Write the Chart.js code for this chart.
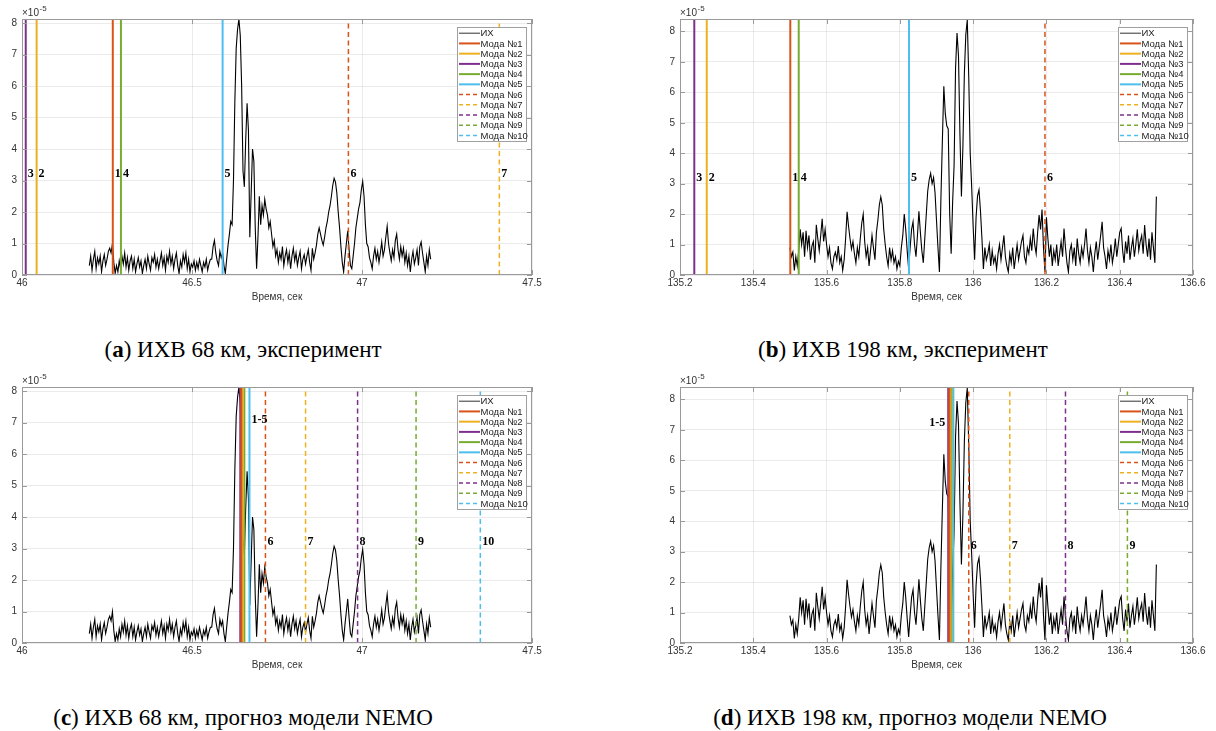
<!DOCTYPE html>
<html lang="ru">
<head>
<meta charset="utf-8">
<script src="https://cdn.jsdelivr.net/npm/chart.js@4.4.1/dist/chart.umd.min.js"></script>
<style>
  html, body { margin: 0; padding: 0; background: #fff; }
  body { width: 1216px; height: 731px; position: relative; overflow: hidden; }
  canvas { position: absolute; }
  .caption {
    position: absolute;
    font-family: "Liberation Serif", "DejaVu Serif", serif;
    font-size: 23px;
    line-height: 26px;
    color: #000;
    white-space: nowrap;
    transform: translateX(-50%);
  }
</style>
</head>
<body>
<canvas id="panelA" style="left:0;top:0" width="560" height="310"></canvas>
<canvas id="panelB" style="left:600px;top:0" width="616" height="310"></canvas>
<canvas id="panelC" style="left:0;top:368px" width="560" height="310"></canvas>
<canvas id="panelD" style="left:600px;top:368px" width="616" height="310"></canvas>

<div class="caption" style="left:243px;top:337px">(<b>a</b>) ИХВ 68 км, эксперимент</div>
<div class="caption" style="left:903px;top:337px">(<b>b</b>) ИХВ 198 км, эксперимент</div>
<div class="caption" style="left:243px;top:705px">(<b>c</b>) ИХВ 68 км, прогноз модели NEMO</div>
<div class="caption" style="left:910px;top:705px">(<b>d</b>) ИХВ 198 км, прогноз модели NEMO</div>

<script>
// Impulse response, 68 km (units of 1e-5), sampled every 4 ms from 46.198 s
const ir68Start = 46.198;
const ir68Step = 0.004;
const ir68 = [
  0.3, 0.6, 0.15, 0.5, 0.75, 0.2, 0.55, 0.35, 0.6, 0.1,
  0.45, 0.65, 0.3, 0.5, 0.75, 0.85, 0.7, 1.0, 0.4, 0.05,
  0.3, 0.1, 0.45, 0.2, 0.6, 0.35, 0.7, 0.25, 0.55, 0.15,
  0.45, 0.6, 0.2, 0.5, 0.1, 0.35, 0.55, 0.25, 0.45, 0.05,
  0.3, 0.5, 0.2, 0.6, 0.35, 0.15, 0.55, 0.4, 0.65, 0.25,
  0.5, 0.2, 0.45, 0.7, 0.3, 0.55, 0.15, 0.6, 0.4, 0.75,
  0.35, 0.6, 0.2, 0.5, 0.7, 0.3, 0.05, 0.45, 0.25, 0.65,
  0.4, 0.7, 0.2, 0.5, 0.1, 0.35, 0.25, 0.45, 0.15, 0.4,
  0.2, 0.5, 0.3, 0.1, 0.4, 0.25, 0.5, 0.15, 0.35, 0.5,
  0.5, 0.9, 1.1, 0.7, 0.45, 0.3, 0.75, 0.55, 0.7, 0.3,
  0.05, 0.5, 0.95, 1.3, 1.7, 1.6, 3.0, 5.5, 7.2, 7.8,
  8.13, 7.6, 6.0, 3.3, 2.8, 4.3, 5.45, 4.6, 1.2, 2.6,
  4.0, 3.6, 1.5, 0.2, 1.2, 2.5, 1.6, 2.2, 1.9, 2.4,
  2.1, 1.9, 1.5, 1.7, 1.3, 0.9, 1.1, 0.6, 0.8, 0.4,
  0.7, 0.5, 0.9, 0.3, 0.6, 0.8, 0.4, 0.7, 0.2, 0.6,
  0.85, 0.45, 0.7, 0.3, 0.55, 0.75, 0.2, 0.5, 0.65, 0.35,
  0.6, 0.8, 0.4, 0.15, 0.85, 0.5, 0.7, 0.95, 1.3, 1.5,
  1.3, 1.1, 0.95, 1.2, 1.5, 1.7, 2.0, 2.2, 2.5, 2.85,
  3.07, 2.95, 2.6, 2.0, 1.5, 0.9, 0.4, 0.1, 0.6, 1.0,
  1.4, 0.8, 0.3, 0.2, 0.6, 1.0, 1.5, 1.8, 2.1, 2.3,
  2.7, 2.97, 2.5, 1.6, 1.0, 0.9, 0.55, 0.4, 0.2, 0.6,
  0.85, 0.5, 0.75, 0.4, 0.7, 1.05, 0.6, 0.8, 1.2, 1.55,
  1.0, 0.7, 0.45, 0.8, 0.55, 1.1, 1.3, 0.8, 0.5, 0.9,
  0.6, 0.85, 0.4, 0.7, 0.3, 0.6, 0.1, 0.5, 0.75, 0.35,
  0.55, 0.8, 0.3, 0.9, 1.05, 0.7, 0.4, 0.1, 0.6, 0.3,
  0.8, 0.5
];

// Impulse response, 198 km (units of 1e-5), sampled every 4 ms from 135.5 s
const ir198Start = 135.5;
const ir198Step = 0.004;
const ir198 = [
  0.9, 0.6, 0.75, 0.15, 0.6, 0.3, 0.8, 1.5, 1.0, 1.4,
  0.6, 1.45, 0.9, 1.3, 0.5, 0.95, 1.1, 0.4, 1.65, 1.2,
  0.8, 1.3, 1.85, 1.1, 1.5, 1.0, 0.6, 0.9, 0.4, 0.2,
  0.6, 0.75, 0.5, 0.95, 0.4, 0.6, 0.15, 0.5, 1.2, 2.08,
  1.6, 1.2, 0.85, 1.1, 0.7, 0.4, 0.9, 0.6, 1.2, 1.7,
  2.0, 1.1, 0.6, 0.9, 0.3, 0.8, 1.3, 0.9, 0.5, 1.4,
  1.8, 2.3, 2.57, 2.3, 1.5, 1.0, 0.6, 0.3, 0.9, 0.5,
  0.8, 0.4, 0.6, 0.2, 0.45, 0.3, 0.9, 1.3, 2.0, 1.5,
  0.8, 0.2, 0.9, 1.5, 1.75, 1.0, 0.6, 1.3, 2.09, 1.4,
  0.8, 0.4, 1.2, 1.97, 2.75, 3.13, 3.34, 3.0, 3.2, 2.7,
  1.8, 0.9, 0.1, 2.5, 4.4, 6.2, 5.3, 4.9, 4.8, 2.0,
  0.7, 2.4, 3.6, 6.8, 7.95, 7.2, 4.6, 2.58, 4.2, 6.6,
  7.9, 8.38, 6.5, 4.0, 2.9, 1.6, 0.5, 1.9, 2.6, 2.8,
  2.1, 1.2, 0.2, 0.9, 0.5, 0.7, 1.0, 0.3, 0.8, 0.4,
  0.6, 0.2, 0.7, 1.0, 0.5, 0.9, 1.3, 0.6, 0.3, 0.1,
  0.7, 0.4, 0.9, 0.2, 0.6, 1.0, 0.5, 0.8, 1.1, 1.3,
  0.6, 0.4, 0.9, 0.7, 1.2, 0.8, 1.53, 1.0, 0.7, 1.4,
  1.97, 1.5, 2.15, 0.9, 0.1, 1.9, 1.2, 0.6, 1.0, 0.3,
  0.8, 0.5, 1.0, 0.3, 0.7, 1.1, 0.6, 1.53, 0.9, 0.4,
  0.1, 0.8, 1.0, 0.5, 0.9, 0.3, 1.2, 0.7, 0.4, 0.9,
  0.6, 1.0, 1.53, 0.8, 0.4, 0.9, 0.6, 0.1, 0.7, 1.1,
  0.5, 0.9, 1.3, 1.75, 0.9, 0.6, 0.2, 0.8, 0.5, 1.0,
  0.4, 0.7, 1.2, 0.6, 1.0, 1.4, 1.53, 0.8, 0.4, 1.1,
  0.7, 1.3, 0.5, 0.9, 1.2, 0.6, 1.0, 1.5, 0.8, 1.1,
  1.3, 0.7, 1.64, 1.0, 0.6, 1.2, 0.5, 1.4, 0.9, 0.4,
  2.58
];

// Mode arrival times, modes 1..10 (null = outside the time window)
const modes68Exp  = [46.267, 46.043, 46.011, 46.291, 46.590, 46.960, 47.404, null, null, null];
const modes198Exp = [135.501, 135.273, 135.239, 135.524, 135.825, 136.196, null, null, null, null];
const modes68Nemo  = [46.645, 46.649, 46.642, 46.654, 46.669, 46.716, 46.834, 46.987, 47.159, 47.348];
const modes198Nemo = [135.935, 135.938, 135.932, 135.941, 135.946, 135.988, 136.100, 136.252, 136.421, null];

const legendNames = ['ИХ', 'Мода №1', 'Мода №2', 'Мода №3', 'Мода №4', 'Мода №5',
                     'Мода №6', 'Мода №7', 'Мода №8', 'Мода №9', 'Мода №10'];
const modeColors = ['#D95319', '#EDB120', '#7E2F8E', '#77AC30', '#4DBEEE'];

const ticks68 = { min: 46, max: 47.5, step: 0.5 };
const ticks198 = { min: 135.2, max: 136.6, step: 0.2 };
const yTop68 = 8.13;
const yTop198 = 8.41;

const tagLevel = 3.2;

function timeSeries(start, step, values) {
  return values.map((v, i) => ({ x: start + step * i, y: v }));
}

function modeStyle(i) {
  return {
    color: modeColors[i % 5],
    width: i < 5 ? 2 : 1.5,
    dash: i < 5 ? [] : [5, 3.5]
  };
}

function buildDatasets(series, modeTimes, yTop) {
  const datasets = [{
    label: legendNames[0],
    data: series,
    borderColor: '#000',
    borderWidth: 1.1,
    pointRadius: 0,
    tension: 0,
    order: 1
  }];
  modeTimes.forEach((t, i) => {
    if (t === null) return;
    const st = modeStyle(i);
    datasets.push({
      label: legendNames[i + 1],
      data: [{ x: t, y: 0 }, { x: t, y: yTop }],
      borderColor: st.color,
      borderWidth: st.width,
      borderDash: st.dash,
      pointRadius: 0,
      order: 0
    });
  });
  return datasets;
}

// Box, inner ticks, exponent, axis title, mode numbers and legend
const panelDecor = {
  id: 'panelDecor',
  afterDraw(chart, args, opts) {
    const ctx = chart.ctx;
    const { left, right, top, bottom } = chart.chartArea;
    const xs = chart.scales.x;
    const ys = chart.scales.y;
    ctx.save();

    // axes box with inward tick marks
    ctx.strokeStyle = '#9a9a9a';
    ctx.lineWidth = 1;
    ctx.setLineDash([]);
    ctx.strokeRect(Math.round(left) + 0.5, Math.round(top) + 0.5,
                   Math.round(right - left) - 1, Math.round(bottom - top) - 1);
    ctx.beginPath();
    xs.ticks.forEach(t => {
      const px = Math.round(xs.getPixelForValue(t.value)) + 0.5;
      ctx.moveTo(px, bottom); ctx.lineTo(px, bottom - 5);
      ctx.moveTo(px, top); ctx.lineTo(px, top + 5);
    });
    ys.ticks.forEach(t => {
      const py = Math.round(ys.getPixelForValue(t.value)) + 0.5;
      ctx.moveTo(left, py); ctx.lineTo(left + 5, py);
      ctx.moveTo(right, py); ctx.lineTo(right - 5, py);
    });
    ctx.stroke();

    // ×10^-5 above the y axis
    ctx.fillStyle = '#333';
    ctx.textBaseline = 'alphabetic';
    ctx.textAlign = 'left';
    ctx.font = '10px "Liberation Sans", Arial, sans-serif';
    ctx.fillText('\u00d710', left, top - 3);
    const w = ctx.measureText('\u00d710').width;
    ctx.font = '8px "Liberation Sans", Arial, sans-serif';
    ctx.fillText('-5', left + w + 0.5, top - 8);

    // x axis title
    ctx.font = '10px "Liberation Sans", Arial, sans-serif';
    ctx.textAlign = 'center';
    ctx.textBaseline = 'middle';
    ctx.fillText('Время, сек', (left + right) / 2, bottom + 22);

    // mode numbers next to the lines
    ctx.fillStyle = '#000';
    ctx.font = 'bold 12px "Liberation Serif", "DejaVu Serif", serif';
    opts.tags.forEach(tag => {
      const px = xs.getPixelForValue(tag.x);
      const py = ys.getPixelForValue(tag.y);
      ctx.textAlign = tag.align || 'left';
      ctx.fillText(tag.text, tag.align === 'right' ? px - 3 : px + 2, py);
    });

    // legend
    const lw = 69, lh = 114;
    const lx = Math.round(right - 6 - lw) + 0.5;
    const ly = Math.round(top + 8) + 0.5;
    ctx.fillStyle = '#fff';
    ctx.fillRect(lx, ly, lw, lh);
    ctx.strokeStyle = '#a0a0a0';
    ctx.lineWidth = 1;
    ctx.strokeRect(lx, ly, lw, lh);
    ctx.font = '9.5px "Liberation Sans", Arial, sans-serif';
    ctx.textAlign = 'left';
    ctx.textBaseline = 'middle';
    legendNames.forEach((name, r) => {
      const cy = ly + 5.7 + r * 10.23;
      ctx.beginPath();
      if (r === 0) {
        ctx.strokeStyle = '#333';
        ctx.lineWidth = 1;
        ctx.setLineDash([]);
      } else {
        const st = modeStyle(r - 1);
        ctx.strokeStyle = st.color;
        ctx.lineWidth = st.width;
        ctx.setLineDash(r > 5 ? [4, 3] : []);
      }
      ctx.moveTo(lx + 1.5, cy);
      ctx.lineTo(lx + 22.5, cy);
      ctx.stroke();
      ctx.setLineDash([]);
      ctx.fillStyle = '#222';
      ctx.fillText(name, lx + 23, cy + 0.5);
    });
    ctx.restore();
  }
};

function numberTags(modeTimes, fromIndex) {
  const tags = [];
  modeTimes.forEach((t, i) => {
    if (t === null || i < fromIndex) return;
    tags.push({ x: t, y: tagLevel, text: String(i + 1) });
  });
  return tags;
}

function makePanel(canvasId, cfg) {
  const ctx = document.getElementById(canvasId).getContext('2d');
  const tickFont = { family: '"Liberation Sans", Arial, sans-serif', size: 10 };
  new Chart(ctx, {
    type: 'line',
    data: { datasets: buildDatasets(cfg.series, cfg.modes, cfg.yTop) },
    options: {
      responsive: false,
      animation: false,
      events: [],
      layout: { padding: cfg.padding },
      scales: {
        x: {
          type: 'linear',
          min: cfg.xTicks.min,
          max: cfg.xTicks.max,
          afterFit: scale => { scale.height = 35; },
          grid: { color: 'rgba(0,0,0,0.08)', drawTicks: false },
          border: { display: false },
          ticks: {
            stepSize: cfg.xTicks.step,
            autoSkip: false,
            maxRotation: 0,
            includeBounds: false,
            padding: 2,
            color: '#333',
            font: tickFont,
            callback: v => String(Math.round(v * 10) / 10)
          }
        },
        y: {
          type: 'linear',
          min: 0,
          max: cfg.yTop,
          afterFit: scale => { scale.width = 22; },
          grid: { color: 'rgba(0,0,0,0.08)', drawTicks: false },
          border: { display: false },
          ticks: {
            stepSize: 1,
            includeBounds: false,
            padding: 5,
            color: '#333',
            font: tickFont
          }
        }
      },
      plugins: {
        legend: { display: false },
        tooltip: { enabled: false },
        panelDecor: { tags: cfg.tags }
      }
    },
    plugins: [panelDecor]
  });
}

const padLeft = { left: 0, top: 19, right: 28, bottom: 0 };
const padRight = { left: 58, top: 19, right: 23, bottom: 0 };

makePanel('panelA', {
  series: timeSeries(ir68Start, ir68Step, ir68),
  modes: modes68Exp, yTop: yTop68, xTicks: ticks68, padding: padLeft,
  tags: numberTags(modes68Exp, 0)
});
makePanel('panelB', {
  series: timeSeries(ir198Start, ir198Step, ir198),
  modes: modes198Exp, yTop: yTop198, xTicks: ticks198, padding: padRight,
  tags: numberTags(modes198Exp, 0)
});
makePanel('panelC', {
  series: timeSeries(ir68Start, ir68Step, ir68),
  modes: modes68Nemo, yTop: yTop68, xTicks: ticks68, padding: padLeft,
  tags: [{ x: modes68Nemo[4], y: 7.1, text: '1-5' }].concat(numberTags(modes68Nemo, 5))
});
makePanel('panelD', {
  series: timeSeries(ir198Start, ir198Step, ir198),
  modes: modes198Nemo, yTop: yTop198, xTicks: ticks198, padding: padRight,
  tags: [{ x: modes198Nemo[2], y: 7.23, text: '1-5', align: 'right' }].concat(numberTags(modes198Nemo, 5))
});
</script>
</body>
</html>
